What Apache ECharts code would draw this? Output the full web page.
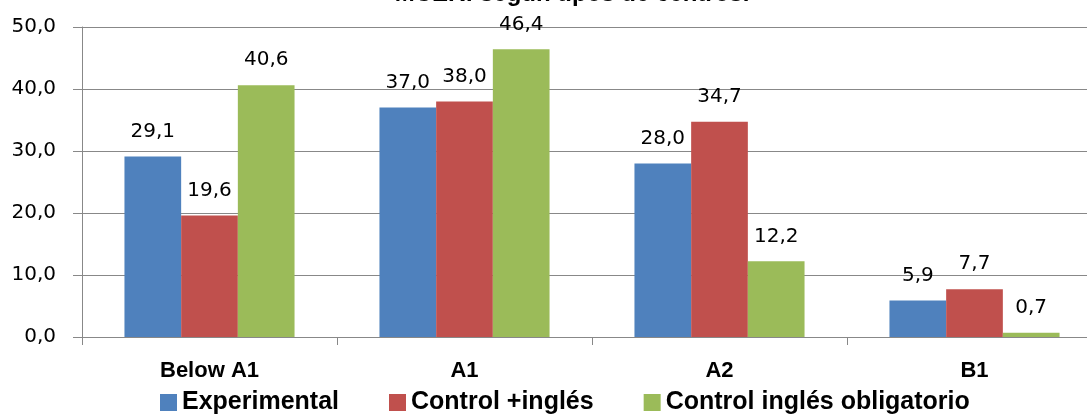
<!DOCTYPE html>
<html>
<head>
<meta charset="utf-8">
<script src="https://cdn.jsdelivr.net/npm/echarts@6/dist/echarts.min.js"></script>
<style>
html,body{margin:0;padding:0;background:#fff;}
#chart{width:1087px;height:414px;}
</style>
</head>
<body>
<div id="chart"></div>
<script>
const titleText = 'MCER: según tipos de centros.';
const categories = ['Below A1', 'A1', 'A2', 'B1'];
const seriesNames = ['Experimental', 'Control +inglés', 'Control inglés obligatorio'];
const experimental = [29.1, 37.0, 28.0, 5.9];
const controlIngles = [19.6, 38.0, 34.7, 7.7];
const controlObligatorio = [40.6, 46.4, 12.2, 0.7];
const colors = ['#4F81BD', '#C0504D', '#9BBB59'];

const fmt = v => Number(v).toFixed(1).replace('.', ',');
const numFont = 'DejaVu Sans';
const boldFont = 'Liberation Sans';

function bar(name, data, color) {
  return {
    name: name,
    type: 'bar',
    data: data,
    barGap: '0%',
    barCategoryGap: '33.3%',
    itemStyle: { color: color },
    label: {
      show: true,
      position: 'top',
      distance: 15,
      formatter: p => fmt(p.value),
      color: '#000',
      fontFamily: numFont,
      fontSize: 20
    }
  };
}

const chart = echarts.init(document.getElementById('chart'), null, { renderer: 'canvas' });
chart.setOption({
  animation: false,
  backgroundColor: '#fff',
  title: {
    text: titleText,
    left: 572,
    top: -18,
    padding: 0,
    textAlign: 'center',
    textStyle: { fontFamily: boldFont, fontWeight: 'bold', fontSize: 24, color: '#000' }
  },
  legend: {
    data: seriesNames,
    left: 160,
    top: 390,
    padding: 0,
    itemGap: 50,
    itemWidth: 17,
    itemHeight: 17,
    icon: 'rect',
    textStyle: { fontFamily: boldFont, fontWeight: 'bold', fontSize: 25, color: '#000' }
  },
  grid: { left: 82, top: 27, width: 1020, height: 310, containLabel: false, outerBoundsMode: 'none' },
  xAxis: {
    type: 'category',
    data: categories,
    axisLine: { lineStyle: { color: '#888', width: 1 } },
    axisTick: { show: true, length: 8, lineStyle: { color: '#888' } },
    axisLabel: { margin: 23, color: '#000', fontFamily: boldFont, fontWeight: 'bold', fontSize: 22 }
  },
  yAxis: {
    type: 'value',
    min: 0,
    max: 50,
    interval: 10,
    axisLine: { show: true, lineStyle: { color: '#888', width: 1 } },
    axisTick: { show: true, length: 9, lineStyle: { color: '#888' } },
    axisLabel: { margin: 26, color: '#000', fontFamily: numFont, fontSize: 20, formatter: v => fmt(v) },
    splitLine: { show: true, lineStyle: { color: '#888', width: 1 } }
  },
  series: [
    bar(seriesNames[0], experimental, colors[0]),
    bar(seriesNames[1], controlIngles, colors[1]),
    bar(seriesNames[2], controlObligatorio, colors[2])
  ]
});
</script>
</body>
</html>
